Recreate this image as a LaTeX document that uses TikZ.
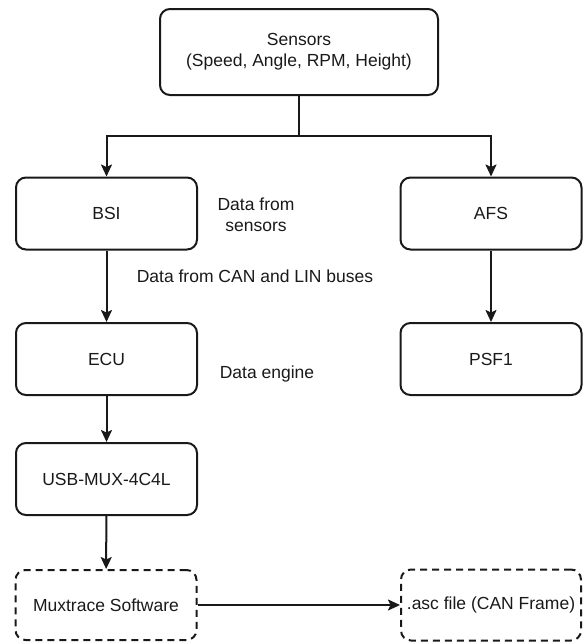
\documentclass[tikz,border=0pt]{standalone}
\usepackage{fontspec}
\setmainfont{Liberation Sans}
\usetikzlibrary{arrows.meta}
\begin{document}
\begin{tikzpicture}[x=1pt,y=-1pt,
  every node/.style={font=\fontsize{17.5}{21}\selectfont, text=black!90},
  box/.style={draw=black!90, line width=2pt, rounded corners=10pt, minimum width=181pt, minimum height=72pt, align=center, inner sep=0pt},
  dbox/.style={box, dashed, dash pattern=on 7pt off 5pt},
  lbl/.style={align=center, inner sep=0pt},
  conn/.style={draw=black!90, line width=2pt},
  arr/.style={conn, -{Stealth[length=12pt,width=11pt,inset=2.5pt]}}
]
\useasboundingbox (0,0) rectangle (585,643);
\node[box, minimum width=278pt, minimum height=86pt] (sensors) at (299,52) {Sensors\\(Speed, Angle, RPM, Height)};
\node[box] (bsi) at (106.5,213.5) {BSI};
\node[box] (afs) at (491,213.5) {AFS};
\node[box] (ecu) at (106.5,359) {ECU};
\node[box] (psf) at (491,359) {PSF1};
\node[box] (usb) at (106.5,479) {USB-MUX-4C4L};
\node[dbox, minimum height=70pt] (mux) at (106,605) {Muxtrace Software};
\node[dbox, minimum width=180pt, minimum height=71pt] (asc) at (491,605) {.asc file (CAN Frame)};
\node[lbl] (l1) at (256,215) {Data from\\sensors};
\node[lbl] (l2) at (255,276) {Data from CAN and LIN buses};
\node[lbl] (l3) at (267,374) {Data engine};
\coordinate (split) at (299,136);
\draw[conn] (sensors.south) -- (split);
\draw[arr] (split) -| (bsi.north);
\draw[arr] (split) -| (afs.north);
\draw[arr] (bsi) -- (ecu);
\draw[arr] (afs) -- (psf);
\draw[arr] (ecu) -- (usb);
\draw[arr] (usb) -- (mux);
\draw[arr] (mux) -- (asc);
\end{tikzpicture}
\end{document}
